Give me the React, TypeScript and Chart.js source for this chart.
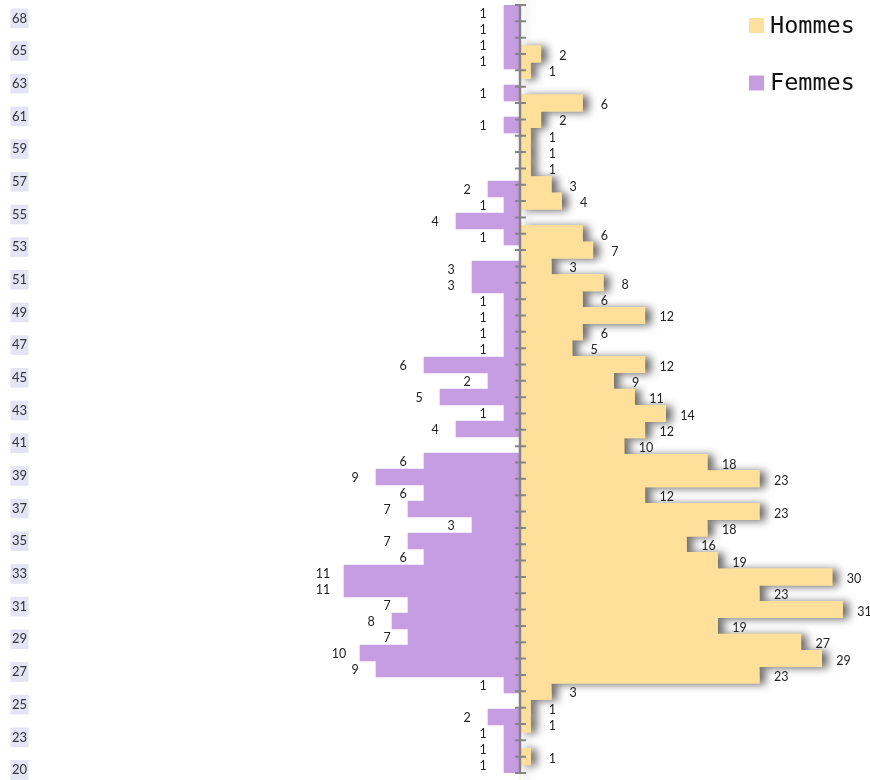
import React, { useEffect, useRef } from 'react';
import { Chart, registerables } from 'chart.js';

Chart.register(...registerables);

// Ages (categories), from bottom (youngest) to top (oldest)
const AGES = [
  20, 22, 23, 24, 25, 26, 27, 28, 29, 30, 31, 32, 33, 34, 35, 36, 37, 38, 39, 40,
  41, 42, 43, 44, 45, 46, 47, 48, 49, 50, 51, 52, 53, 54, 55, 56, 57, 58, 59, 60,
  61, 62, 63, 64, 65, 66, 68, 69,
];

// Number of men per age
const HOMMES = [
  0, 1, 0, 1, 1, 3, 23, 29, 27, 19, 31, 23, 30, 19, 16, 18, 23, 12, 23, 18,
  10, 12, 14, 11, 9, 12, 5, 6, 12, 6, 8, 3, 7, 6, 0, 4, 3, 1, 1, 1,
  2, 6, 0, 1, 2, 0, 0, 0,
];

// Number of women per age
const FEMMES = [
  1, 1, 1, 2, 0, 1, 9, 10, 7, 8, 7, 11, 11, 6, 7, 3, 7, 6, 9, 6,
  0, 4, 1, 5, 2, 6, 1, 1, 1, 1, 3, 3, 0, 1, 4, 1, 2, 0, 0, 0,
  1, 0, 1, 0, 1, 1, 1, 1,
];

const SERIES_NAMES = ['Hommes', 'Femmes'];
const COLOR_H = '#ffe09b';
const COLOR_F = '#c59de0';

const AXIS_W = 40;
const ZERO_X = 520;
const W = 870;
const H_PX_PER_UNIT = 10.4;
const F_PX_PER_UNIT = 16;

const shadowPlugin = {
  id: 'hShadow',
  beforeDatasetDraw(chart: any, args: any) {
    if (args.index !== 0) return;
    const ctx = chart.ctx;
    ctx.save();
    ctx.shadowColor = 'rgba(0,0,0,0.6)';
    ctx.shadowBlur = 8;
    ctx.shadowOffsetX = 6;
    ctx.shadowOffsetY = 1;
    args.meta.controller.draw();
    ctx.restore();
  },
};

const axisAndLabelsPlugin = {
  id: 'axisLabels',
  afterDatasetsDraw(chart: any) {
    const ctx = chart.ctx;
    const xH = chart.scales.xH;
    const y = chart.scales.y;
    const area = chart.chartArea;
    const x0 = xH.getPixelForValue(0);
    ctx.save();
    // central axis
    ctx.strokeStyle = '#858585';
    ctx.lineWidth = 2.5;
    ctx.beginPath();
    ctx.moveTo(x0, area.top);
    ctx.lineTo(x0, area.bottom);
    ctx.stroke();
    ctx.lineWidth = 2;
    ctx.beginPath();
    for (let i = 0; i < AGES.length; i++) {
      const py = y.getPixelForValue(i);
      ctx.moveTo(x0 - 5, py);
      ctx.lineTo(x0 + 6, py);
    }
    ctx.stroke();

    // value labels
    ctx.font = '12.5px Lato';
    ctx.fillStyle = '#222';
    ctx.textAlign = 'center';
    ctx.textBaseline = 'middle';
    const mh = chart.getDatasetMeta(0);
    mh.data.forEach((bar: any, i: number) => {
      const v = HOMMES[i];
      if (!v) return;
      ctx.fillText(String(v), bar.x + 22, bar.y + 2);
    });
    const mf = chart.getDatasetMeta(1);
    mf.data.forEach((bar: any, i: number) => {
      const v = FEMMES[i];
      if (!v) return;
      ctx.fillText(String(v), bar.x - 21, bar.y + 1);
    });
    ctx.restore();
  },
  afterDraw(chart: any) {
    const ctx = chart.ctx;
    ctx.save();
    ctx.font = '23.5px "DejaVu Sans Mono"';
    ctx.textAlign = 'left';
    ctx.textBaseline = 'alphabetic';
    chart.data.datasets.forEach((ds: any, i: number) => {
      const top = 18 + i * 57.5;
      ctx.fillStyle = ds.backgroundColor;
      ctx.fillRect(749, top, 15, 15);
      ctx.fillStyle = '#111';
      ctx.fillText(ds.label, 770, top + 14.5);
    });
    ctx.restore();
  },
};

export default function App() {
  const ref = useRef<HTMLCanvasElement | null>(null);

  useEffect(() => {
    if (!ref.current) return;
    const chart = new Chart(ref.current, {
      type: 'bar',
      data: {
        labels: AGES.map(String),
        datasets: [
          {
            label: SERIES_NAMES[0],
            data: HOMMES,
            backgroundColor: COLOR_H,
            xAxisID: 'xH',
            yAxisID: 'y',
            borderWidth: 0,
            categoryPercentage: 1,
            barPercentage: 1,
            grouped: false,
          },
          {
            label: SERIES_NAMES[1],
            data: FEMMES,
            backgroundColor: COLOR_F,
            xAxisID: 'xF',
            yAxisID: 'yF',
            borderWidth: 0,
            categoryPercentage: 1,
            barPercentage: 1,
            grouped: false,
          },
        ],
      },
      options: {
        indexAxis: 'y',
        animation: false,
        responsive: true,
        maintainAspectRatio: false,
        layout: { padding: { top: 5, bottom: 7, left: 0, right: 0 } },
        plugins: {
          legend: { display: false },
          tooltip: { enabled: false },
        },
        scales: {
          y: {
            type: 'category',
            reverse: true,
            offset: false,
            position: 'left',
            grid: { display: false, drawTicks: false, offset: false },
            border: { display: false },
            ticks: {
              autoSkip: false,
              padding: 13,
              labelOffset: -3,
              color: '#333',
              font: { family: 'Lato', size: 13 },
              showLabelBackdrop: true,
              backdropColor: '#e4e4f4',
              backdropPadding: { top: 2, bottom: 2, left: 1.5, right: 1.5 },
            },
            afterBuildTicks: (s: any) => {
              s.ticks = s.ticks.filter((t: any) => t.value % 2 === 0);
            },
            afterFit: (s: any) => {
              s.width = AXIS_W;
              s.paddingTop = 0;
              s.paddingBottom = 0;
            },
          } as any,
          yF: {
            type: 'category',
            reverse: true,
            offset: true,
            display: false,
            grid: { offset: true },
          } as any,
          xH: {
            type: 'linear',
            display: false,
            min: (AXIS_W - ZERO_X) / H_PX_PER_UNIT,
            max: (W - ZERO_X) / H_PX_PER_UNIT,
          },
          xF: {
            type: 'linear',
            display: false,
            reverse: true,
            min: (ZERO_X - W) / F_PX_PER_UNIT,
            max: (ZERO_X - AXIS_W) / F_PX_PER_UNIT,
          },
        },
      } as any,
      plugins: [shadowPlugin, axisAndLabelsPlugin],
    });
    return () => chart.destroy();
  }, []);

  return (
    <div style={{ position: 'absolute', left: 0, top: 0, width: 870, height: 780, background: '#fff' }}>
      <canvas ref={ref} />
    </div>
  );
}
